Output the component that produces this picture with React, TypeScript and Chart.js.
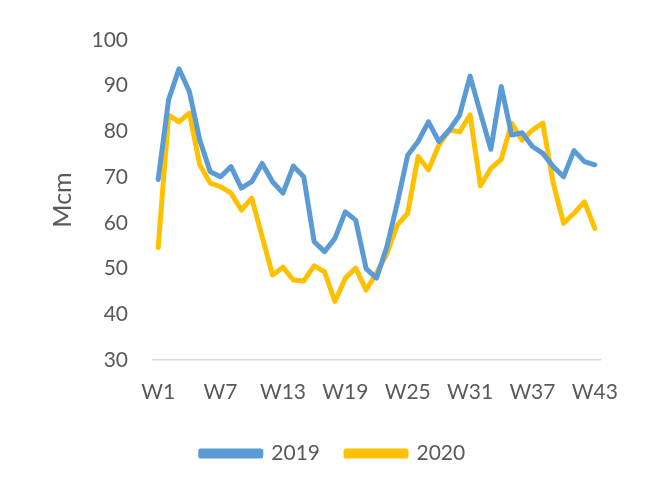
import React, { useEffect, useRef } from "react";
import { Chart, registerables } from "chart.js";

Chart.register(...registerables);

const weeks: string[] = Array.from({ length: 43 }, (_, i) => `W${i + 1}`);

const series2019: number[] = [
  69.5, 86.9, 93.7, 88.7, 78.1, 71.2, 70.1, 72.3, 67.6, 69.0,
  73.0, 69.0, 66.5, 72.4, 70.1, 55.9, 53.7, 56.6, 62.4, 60.6,
  50.0, 47.9, 54.8, 64.3, 74.8, 77.8, 82.1, 77.8, 80.3, 83.6,
  92.1, 84.0, 76.1, 89.8, 79.2, 79.7, 76.7, 75.2, 72.3, 70.1,
  75.8, 73.4, 72.7,
];

const series2020: number[] = [
  54.6, 83.6, 82.1, 84.0, 72.7, 68.7, 67.9, 66.5, 62.8, 65.4,
  57.0, 48.6, 50.3, 47.5, 47.3, 50.6, 49.3, 42.8, 47.9, 50.1,
  45.3, 49.0, 53.3, 59.5, 62.1, 74.5, 71.6, 77.0, 80.3, 79.9,
  83.6, 68.1, 71.9, 73.9, 81.8, 78.1, 80.3, 81.8, 68.7, 59.9,
  62.1, 64.6, 58.8,
];

const yTicks = { min: 30, max: 100, step: 10 };
const FONT = "Lato, 'Open Sans', 'Liberation Sans', sans-serif";

const legendShift = {
  id: "legendShift",
  afterLayout(chart: any) {
    const lg = chart.legend;
    if (lg) {
      lg.left += 33;
      lg.right += 33;
    }
  },
};

export default function App() {
  const ref = useRef<HTMLCanvasElement | null>(null);

  useEffect(() => {
    if (!ref.current) return;
    const chart = new Chart(ref.current, {
      type: "line",
      data: {
        labels: weeks,
        datasets: [
          {
            label: "2019",
            data: series2019,
            borderColor: "#5B9BD5",
            backgroundColor: "#5B9BD5",
            borderWidth: 5,
            pointRadius: 0,
            tension: 0,
            borderJoinStyle: "round",
            borderCapStyle: "round",
          },
          {
            label: "2020",
            data: series2020,
            borderColor: "#FFC000",
            backgroundColor: "#FFC000",
            borderWidth: 5,
            pointRadius: 0,
            tension: 0,
            borderJoinStyle: "round",
            borderCapStyle: "round",
          },
        ],
      },
      plugins: [legendShift],
      options: {
        animation: false,
        responsive: false,
        maintainAspectRatio: false,
        layout: { padding: { top: 40, right: 46, bottom: 14, left: 0 } },
        plugins: {
          tooltip: { enabled: false },
          legend: {
            position: "bottom",
            labels: {
              boxWidth: 60,
              boxHeight: 5,
              padding: 26,
              color: "#595959",
              font: { family: FONT, size: 21 },
            },
          },
        },
        scales: {
          x: {
            offset: true,
            grid: { display: false, drawTicks: false },
            border: { display: true, color: "#D9D9D9", width: 1.5 },
            ticks: {
              autoSkip: false,
              maxRotation: 0,
              padding: 20,
              color: "#595959",
              font: { family: FONT, size: 21 },
              callback: (_v: any, i: number) => (i % 6 === 0 ? weeks[i] : ""),
            },
            afterFit: (s: any) => {
              s.height = 57;
            },
          },
          y: {
            min: yTicks.min,
            max: yTicks.max,
            grid: { display: false, drawTicks: false },
            border: { display: false },
            ticks: {
              stepSize: yTicks.step,
              padding: 25,
              color: "#595959",
              font: { family: FONT, size: 21 },
            },
            title: {
              display: true,
              text: "Mcm",
              color: "#595959",
              font: { family: FONT, size: 25 },
              padding: { top: 48, bottom: 0 },
            },
            afterFit: (s: any) => {
              s.width = 153;
            },
          },
        },
      },
    });
    return () => chart.destroy();
  }, []);

  return (
    <div style={{ position: "fixed", left: 0, top: 0, width: 646, height: 488, background: "#fff" }}>
      <canvas ref={ref} width={646} height={488} style={{ width: 646, height: 488 }} />
    </div>
  );
}
